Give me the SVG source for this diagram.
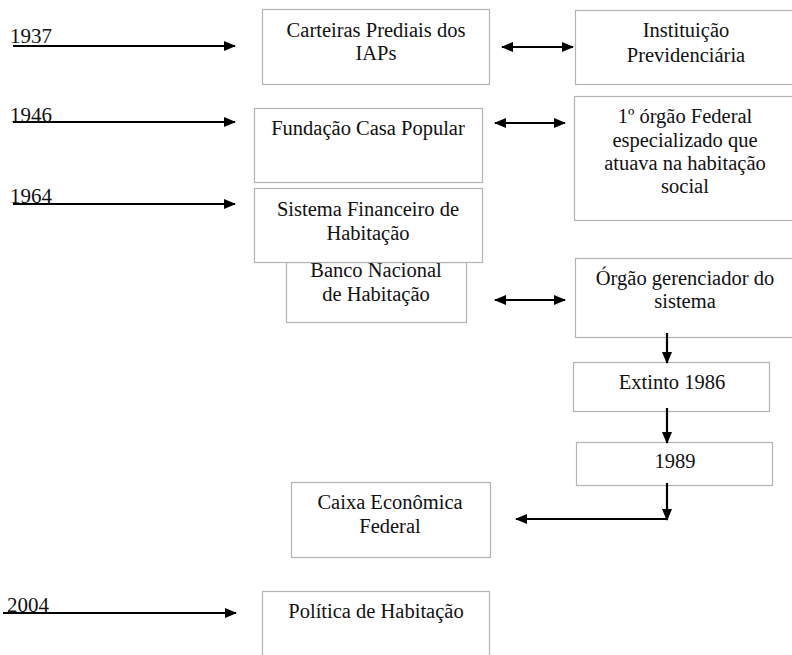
<svg xmlns="http://www.w3.org/2000/svg" width="792" height="655" viewBox="0 0 792 655">
<style>
.box{fill:#fff;stroke:#b3b3b3;stroke-width:1.2}
.t{font-family:"Liberation Serif","Times New Roman",serif;font-size:20.5px;fill:#111;text-anchor:middle}
.y{font-family:"Liberation Serif","Times New Roman",serif;font-size:21px;fill:#111}
.c{stroke:#000;stroke-width:2.2;fill:none}
</style>
<defs>
<marker id="ah" viewBox="0 0 12 10" refX="11" refY="5" markerWidth="12" markerHeight="10" markerUnits="userSpaceOnUse" orient="auto-start-reverse">
<path d="M0,0 L12,5 L0,10 Z" fill="#000"/>
</marker>
</defs>
<rect width="792" height="655" fill="#fff"/>

<g id="years">
<text class="y" x="10" y="43">1937</text>
<text class="y" x="10" y="122">1946</text>
<text class="y" x="10" y="203">1964</text>
<text class="y" x="7" y="612">2004</text>
</g>

<g id="n-carteiras">
<rect class="box" x="262.5" y="9.5" width="227" height="75"/>
<text class="t" x="376" y="37">Carteiras Prediais dos</text>
<text class="t" x="376" y="60">IAPs</text>
</g>
<g id="n-instituicao">
<rect class="box" x="575.5" y="10.5" width="222" height="74"/>
<text class="t" x="686" y="37">Instituição</text>
<text class="t" x="686" y="62">Previdenciária</text>
</g>
<g id="n-fundacao">
<rect class="box" x="254.5" y="108.5" width="228" height="74"/>
<text class="t" x="368" y="135">Fundação Casa Popular</text>
</g>
<g id="n-orgaofederal">
<rect class="box" x="574.5" y="96.5" width="223" height="124"/>
<text class="t" x="685" y="123">1º órgão Federal</text>
<text class="t" x="685" y="147">especializado que</text>
<text class="t" x="685" y="170">atuava na habitação</text>
<text class="t" x="685" y="193">social</text>
</g>
<g id="n-bnh">
<rect class="box" x="286.5" y="262.5" width="180" height="60"/>
<text class="t" x="376" y="277">Banco Nacional</text>
<text class="t" x="376" y="301">de Habitação</text>
</g>
<g id="n-sfh">
<rect class="box" x="254.5" y="188.5" width="228" height="74"/>
<text class="t" x="368" y="216">Sistema Financeiro de</text>
<text class="t" x="368" y="240">Habitação</text>
</g>
<g id="n-gerenciador">
<rect class="box" x="575.5" y="258.5" width="222" height="79"/>
<text class="t" x="685" y="285">Órgão gerenciador do</text>
<text class="t" x="685" y="308">sistema</text>
</g>
<g id="n-extinto">
<rect class="box" x="573.5" y="362.5" width="196" height="49"/>
<text class="t" x="672" y="389">Extinto 1986</text>
</g>
<g id="n-1989">
<rect class="box" x="576.5" y="442.5" width="196" height="43"/>
<text class="t" x="675" y="468">1989</text>
</g>
<g id="n-caixa">
<rect class="box" x="291.5" y="482.5" width="199" height="75"/>
<text class="t" x="390" y="509">Caixa Econômica</text>
<text class="t" x="390" y="533">Federal</text>
</g>
<g id="n-politica">
<rect class="box" x="262.5" y="591.5" width="227" height="70"/>
<text class="t" x="376" y="618">Política de Habitação</text>
</g>

<g id="connectors">
<line class="c" x1="13" y1="46" x2="235" y2="46" marker-end="url(#ah)"/>
<line class="c" x1="13" y1="122" x2="235" y2="122" marker-end="url(#ah)"/>
<line class="c" x1="13" y1="204" x2="235" y2="204" marker-end="url(#ah)"/>
<line class="c" x1="3" y1="613" x2="236" y2="613" marker-end="url(#ah)"/>
<line class="c" x1="502" y1="47" x2="573" y2="47" marker-start="url(#ah)" marker-end="url(#ah)"/>
<line class="c" x1="495" y1="123" x2="565" y2="123" marker-start="url(#ah)" marker-end="url(#ah)"/>
<line class="c" x1="495" y1="300" x2="565" y2="300" marker-start="url(#ah)" marker-end="url(#ah)"/>
<line class="c" x1="667" y1="333" x2="667" y2="363" marker-end="url(#ah)"/>
<line class="c" x1="667" y1="408" x2="667" y2="443" marker-end="url(#ah)"/>
<line class="c" x1="667" y1="483" x2="667" y2="520" marker-end="url(#ah)"/>
<line class="c" x1="667" y1="519" x2="516" y2="519" marker-end="url(#ah)"/>
</g>
</svg>
